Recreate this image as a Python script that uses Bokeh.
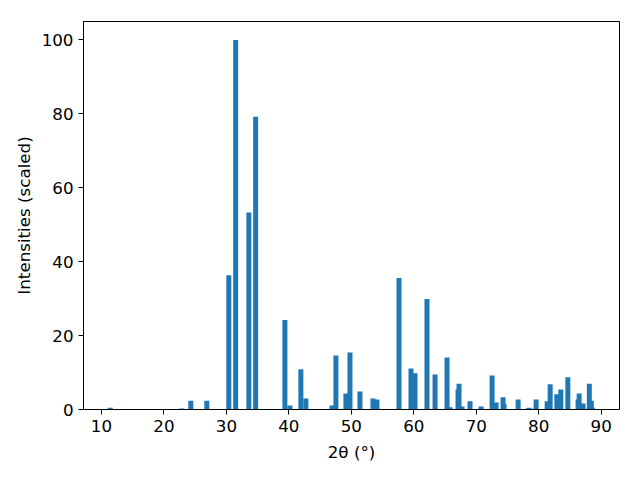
from bokeh.plotting import figure
from bokeh.models import ColumnDataSource, Range1d, FixedTicker
from bokeh.embed import file_html
from bokeh.resources import INLINE

two_theta = [11.4, 22.85, 24.3, 26.86, 30.38, 31.48, 33.59, 34.68, 39.36, 40.16,
             41.92, 42.72, 46.89, 47.53, 49.13, 49.78, 51.38, 53.46, 54.1, 57.63,
             59.55, 60.19, 62.11, 63.4, 65.32, 65.8, 67.08, 67.24, 67.72, 69.0,
             70.77, 72.53, 73.17, 74.29, 74.45, 76.7, 78.3, 78.46, 79.42, 79.58,
             81.35, 81.83, 82.9, 83.54, 84.66, 86.3, 86.47, 87.1, 88.1, 88.42, 88.6]
intensity = [0.5, 0.3, 2.4, 2.4, 36.3, 100, 53.3, 79.2, 24.2, 1.1,
             10.9, 3.0, 1.1, 14.6, 4.3, 15.4, 4.9, 3.0, 2.7, 35.6,
             11.1, 9.8, 29.9, 9.5, 14.1, 0.6, 5.4, 7.0, 0.8, 2.2,
             0.8, 9.2, 1.9, 3.3, 1.4, 2.7, 0.3, 0.5, 0.3, 2.7,
             2.2, 6.8, 4.1, 5.4, 8.7, 2.7, 4.3, 1.6, 7.0, 2.4, 0.5]
x_ticks = [10, 20, 30, 40, 50, 60, 70, 80, 90]
y_ticks = [0, 20, 40, 60, 80, 100]

source = ColumnDataSource(data=dict(x=two_theta, y=intensity))

p = figure(output_backend="svg", toolbar_location=None,
           frame_width=536, frame_height=388,
           min_border_left=83, min_border_right=13, min_border_top=21, min_border_bottom=63,
           x_range=Range1d(7.12, 92.93), y_range=Range1d(0, 105))

p.vbar(x="x", top="y", width=0.8, bottom=0, source=source,
       fill_color="#1f77b4", line_color=None)

p.xgrid.visible = False
p.ygrid.visible = False
p.outline_line_color = "black"
p.outline_line_width = 1
p.background_fill_color = "white"
p.border_fill_color = "white"

p.xaxis.ticker = FixedTicker(ticks=x_ticks)
p.yaxis.ticker = FixedTicker(ticks=y_ticks)
p.xaxis.axis_label = "2θ (°)"
p.yaxis.axis_label = "Intensities (scaled)"

for ax in (p.xaxis[0], p.yaxis[0]):
    ax.axis_line_color = "black"
    ax.major_tick_line_color = "black"
    ax.major_tick_in = 0
    ax.major_tick_out = 5
    ax.minor_tick_line_color = None
    ax.major_label_text_font = "DejaVu Sans"
    ax.major_label_text_font_size = "16.7px"
    ax.major_label_text_color = "black"
    ax.axis_label_text_font = "DejaVu Sans"
    ax.axis_label_text_font_size = "16.7px"
    ax.axis_label_text_font_style = "normal"
    ax.axis_label_text_color = "black"
    ax.major_label_standoff = 5

p.xaxis.axis_label_standoff = 7
p.yaxis.axis_label_standoff = 5

open("out.html", "w").write(file_html(p, INLINE))
